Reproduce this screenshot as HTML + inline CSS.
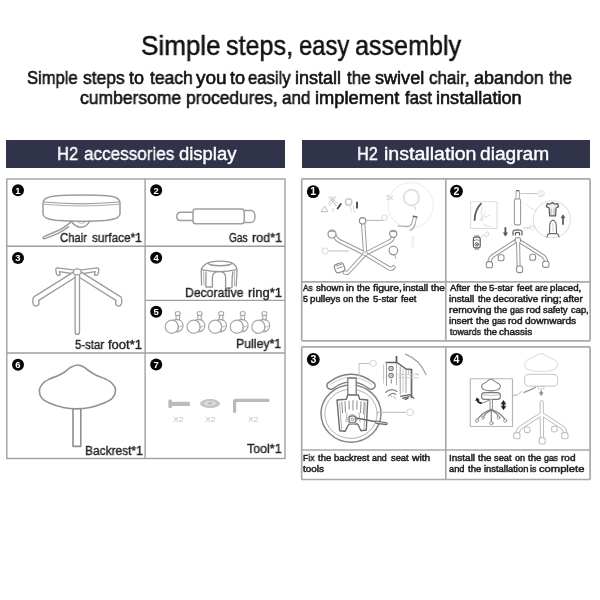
<!DOCTYPE html>
<html><head><meta charset="utf-8"><title>Simple steps, easy assembly</title>
<style>
html,body{margin:0;padding:0;background:#fff;}
body{width:600px;height:600px;position:relative;overflow:hidden;font-family:"Liberation Sans", sans-serif;}
.t{position:absolute;white-space:pre;transform-origin:0 0;will-change:transform;font-family:"Liberation Sans", sans-serif;font-weight:400;}
.hd{position:absolute;background:#30334a;}
svg{position:absolute;left:0;top:0;will-change:transform;}
</style></head><body>
<div class="hd" style="left:5.9px;top:139.6px;width:279.2px;height:28.7px"></div>
<div class="hd" style="left:301.7px;top:139.6px;width:288.8px;height:28.7px"></div>
<svg width="600" height="600" viewBox="0 0 600 600" fill="none">
<!-- table grid left -->
<g stroke="#9e9e9e" stroke-width="1.35">
<rect x="6.8" y="179" width="278.2" height="279.5"/>
<line x1="145.1" y1="179" x2="145.1" y2="458.5"/>
<line x1="6.8" y1="246.2" x2="285" y2="246.2"/>
<line x1="145.1" y1="300.4" x2="285" y2="300.4"/>
<line x1="6.8" y1="353" x2="285" y2="353"/>
</g>
<!-- right tables -->
<g stroke="#a9a9a9" stroke-width="1.7">
<rect x="301.7" y="178.8" width="288.4" height="162" rx="1"/>
<line x1="445.8" y1="178.8" x2="445.8" y2="340.8"/>
<line x1="301.7" y1="281.8" x2="590" y2="281.8"/>
<rect x="301.7" y="346.8" width="288.4" height="132.7" rx="1"/>
<line x1="445.8" y1="346.8" x2="445.8" y2="479.5"/>
<line x1="301.7" y1="450" x2="590" y2="450"/>
</g>
<!--ARTL-->
<!-- badges -->
<g id="badges" font-family="Liberation Sans, sans-serif" font-weight="700" text-anchor="middle" fill="#fff">
<g font-size="9.5">
<circle cx="18" cy="190.2" r="6" fill="#050505"/><text x="18" y="193.6">1</text>
<circle cx="156.2" cy="190.3" r="6" fill="#050505"/><text x="156.2" y="193.7">2</text>
<circle cx="18" cy="258" r="6" fill="#050505"/><text x="18" y="261.4">3</text>
<circle cx="156.2" cy="257.7" r="6" fill="#050505"/><text x="156.2" y="261.1">4</text>
<circle cx="156.2" cy="311.7" r="6" fill="#050505"/><text x="156.2" y="315.1">5</text>
<circle cx="18" cy="364.7" r="6" fill="#050505"/><text x="18" y="368.1">6</text>
<circle cx="156.2" cy="364.6" r="6" fill="#050505"/><text x="156.2" y="368">7</text>
</g>
<g font-size="10.5">
<circle cx="313.2" cy="191.7" r="6.4" fill="#050505"/><text x="313.2" y="195.4">1</text>
<circle cx="456.5" cy="191.2" r="6.4" fill="#050505"/><text x="456.5" y="194.9">2</text>
<circle cx="313.3" cy="359.5" r="6.4" fill="#050505"/><text x="313.3" y="363.2">3</text>
<circle cx="456.5" cy="359.3" r="6.4" fill="#050505"/><text x="456.5" y="363">4</text>
</g>
</g>
<!-- L1 chair surface -->
<g stroke="#9b9b9b" stroke-width="1.5" stroke-linecap="round" stroke-linejoin="round" fill="none">
<path d="M43,203 C43,198.5 47,196.6 55,195.9 C64,195.1 73,195 81.2,195 C89.5,195 98.5,195.1 107.5,195.8 C115.5,196.5 120,198.5 120,203 L120,214 C120,217.5 115,219.3 107,220.2 C98,221 89,221.2 81.2,221.2 C73.5,221.2 64.5,221 55.5,220.2 C47.5,219.3 43,217.5 43,214 Z" fill="#fff"/>
<path d="M43.8,202 Q81.2,205.6 119,202" stroke-width="1.2"/>
<path d="M43.6,204.2 Q81.2,207.8 119.4,204.2" stroke="#adadad" stroke-width="1.1"/>
<path d="M71,221 C73.5,224.5 76,227.3 81,227.3 C86,227.3 88,224.5 89.5,221.3"/>
<path d="M78,222.5 Q81.5,224.5 85,222.5" stroke-width="0.9" stroke="#b0b0b0"/>
<path d="M70.5,222.3 C66,226 61,229.5 56.5,231.2 C52,233 47.5,235 44,236.6 C42.4,237.6 43,239.2 45,238.6 C49,237.2 53.5,235.3 58,233.4 C62,231.5 65.5,229 68.5,226.8"/>
</g>
<!-- L2 gas rod -->
<g stroke="#a0a0a0" stroke-width="1.5" fill="#fff" stroke-linejoin="round">
<path d="M193,212.2 L181,212.2 C175.4,212.2 175.4,220.6 181,220.6 L193,220.6"/>
<path d="M244.2,210.4 L251,210.4 C256.3,210.4 256.3,222.5 251,222.5 L244.2,222.5"/>
<rect x="193" y="209" width="51.2" height="14.8" rx="2.8"/>
</g>
<!-- L3 five-star foot -->
<g stroke="#9c9c9c" stroke-width="1.35" fill="#fff" stroke-linejoin="round" stroke-linecap="round">
<path d="M75,270.2 L57.5,267.8 Q55.6,267.8 55.8,270 L56.4,273.6 Q57.6,276.6 60.2,274.6 L59.4,271.6 L74.5,274 Z"/>
<path d="M79.6,270.2 L97.1,267.8 Q99,267.8 98.8,270 L98.2,273.6 Q97,276.6 94.4,274.6 L95.2,271.6 L80.1,274 Z"/>
<path d="M74.2,271.6 L34.2,296.6 Q32.8,297.8 32.8,300 L33,303.4 Q33.8,306.6 36.8,305.8 Q39.4,305 39,302.6 L38.4,300.6 L77,276.2 Z"/>
<path d="M80.4,271.6 L120.4,296.6 Q121.8,297.8 121.8,300 L121.6,303.4 Q120.8,306.6 117.8,305.8 Q115.2,305 115.6,302.6 L116.2,300.6 L77.6,276.2 Z"/>
<path d="M75.1,274 L75.1,332 Q75.1,334.4 77.3,334.4 Q79.5,334.4 79.5,332 L79.5,274 Z"/>
<ellipse cx="77.3" cy="271.9" rx="3.9" ry="3"/>
</g>
<!-- L4 decorative ring -->
<g stroke="#999" stroke-width="1.35" fill="none" stroke-linejoin="round" stroke-linecap="round">
<ellipse cx="220" cy="263.4" rx="11.5" ry="2.3"/>
<path d="M208.6,262.6 C204,264.5 201.4,267.5 201.2,270.5 L201.6,285"/>
<path d="M231.4,262.6 C235.4,264.5 237,267.5 237,270.5 L236.2,286"/>
<path d="M201.8,269.6 Q219.5,273.6 236.6,269.6"/>
<path d="M203.6,271.5 L204,285" stroke="#b3b3b3" stroke-width="1"/>
<path d="M234.4,271.5 L234.3,286" stroke="#b3b3b3" stroke-width="1"/>
<path d="M206,272 C206.2,278 205.6,283 206,287 L212.4,287 L212.4,277 C212.6,273.4 215.5,271.6 219,271.6 C222.6,271.6 225.6,273.4 225.6,277 L225.6,288 L232,287.6 C232,283 232,277 232.8,272"/>
</g>
<!-- L5 pulleys -->
<g stroke="#a6a6a6" stroke-width="1.15" fill="#fff">
<g>
<circle cx="176.9" cy="325.6" r="6.2"/>
<rect x="176.1" y="314.6" width="3.4" height="5" rx="0.6"/>
<rect x="175.4" y="311.7" width="4.8" height="3.7" rx="1.1"/>
<circle cx="171.8" cy="326.8" r="6.6"/>
<path d="M175.5,320.6 C178,323.5 178.6,327 177.8,331" fill="none" stroke-width="0.8"/>
<path d="M178,327.5 L182.4,325.8" fill="none" stroke-width="0.8"/>
</g>
<g transform="translate(21.8,0)">
<circle cx="176.9" cy="325.6" r="6.2"/>
<rect x="176.1" y="314.6" width="3.4" height="5" rx="0.6"/>
<rect x="175.4" y="311.7" width="4.8" height="3.7" rx="1.1"/>
<circle cx="171.8" cy="326.8" r="6.6"/>
<path d="M175.5,320.6 C178,323.5 178.6,327 177.8,331" fill="none" stroke-width="0.8"/>
<path d="M178,327.5 L182.4,325.8" fill="none" stroke-width="0.8"/>
</g>
<g transform="translate(43.4,0)">
<circle cx="176.9" cy="325.6" r="6.2"/>
<rect x="176.1" y="314.6" width="3.4" height="5" rx="0.6"/>
<rect x="175.4" y="311.7" width="4.8" height="3.7" rx="1.1"/>
<circle cx="171.8" cy="326.8" r="6.6"/>
<path d="M175.5,320.6 C178,323.5 178.6,327 177.8,331" fill="none" stroke-width="0.8"/>
<path d="M178,327.5 L182.4,325.8" fill="none" stroke-width="0.8"/>
</g>
<g transform="translate(65,0)">
<circle cx="176.9" cy="325.6" r="6.2"/>
<rect x="176.1" y="314.6" width="3.4" height="5" rx="0.6"/>
<rect x="175.4" y="311.7" width="4.8" height="3.7" rx="1.1"/>
<circle cx="171.8" cy="326.8" r="6.6"/>
<path d="M175.5,320.6 C178,323.5 178.6,327 177.8,331" fill="none" stroke-width="0.8"/>
<path d="M178,327.5 L182.4,325.8" fill="none" stroke-width="0.8"/>
</g>
<g transform="translate(86.6,0)">
<circle cx="176.9" cy="325.6" r="6.2"/>
<rect x="176.1" y="314.6" width="3.4" height="5" rx="0.6"/>
<rect x="175.4" y="311.7" width="4.8" height="3.7" rx="1.1"/>
<circle cx="171.8" cy="326.8" r="6.6"/>
<path d="M175.5,320.6 C178,323.5 178.6,327 177.8,331" fill="none" stroke-width="0.8"/>
<path d="M178,327.5 L182.4,325.8" fill="none" stroke-width="0.8"/>
</g>

</g>
<!-- L6 backrest -->
<g stroke="#929292" stroke-width="1.65" fill="#fff" stroke-linejoin="round">
<rect x="73" y="408" width="7.8" height="38.3"/>
<path d="M77.5,365.0 C75.4,365.1 72.9,366.1 70.8,367.2 C68.7,368.3 67.1,370.3 65.0,371.7 C62.9,373.1 60.8,374.3 58.3,375.5 C55.8,376.7 52.5,377.6 50.0,378.8 C47.5,380.1 45.0,381.2 43.3,383.0 C41.5,384.8 39.8,387.2 39.5,389.7 C39.2,392.2 40.0,395.7 41.7,398.0 C43.5,400.3 46.4,401.7 50.0,403.3 C53.6,404.9 58.8,406.6 63.3,407.5 C67.8,408.4 72.2,408.8 76.7,408.8 C81.2,408.8 85.6,408.4 90.0,407.5 C94.4,406.6 99.5,404.9 103.3,403.3 C107.0,401.7 110.5,400.3 112.5,398.0 C114.5,395.7 115.6,392.2 115.5,389.7 C115.4,387.2 113.5,384.8 111.7,383.0 C110.0,381.2 107.5,380.1 105.0,378.8 C102.5,377.6 99.3,376.8 96.7,375.5 C94.1,374.2 91.4,372.5 89.2,371.0 C87.0,369.5 85.2,367.7 83.3,366.7 C81.3,365.7 79.6,364.9 77.5,365.0 Z"/>
</g>
<!-- L7 tools -->
<g>
<rect x="168.4" y="399.6" width="3.4" height="8.4" rx="1.2" fill="#b7b7b7"/>
<rect x="171" y="401.7" width="19" height="4.3" rx="1" fill="#bcbcbc"/>
<ellipse cx="210" cy="403.6" rx="10" ry="4.5" fill="#c4c4c4"/>
<ellipse cx="210" cy="403.3" rx="5.6" ry="2.3" fill="#e4e4e4"/>
<ellipse cx="210" cy="403.3" rx="3" ry="1.2" fill="#bdbdbd"/>
<path d="M268,400.3 L235.8,400.3 Q234.6,400.3 234.6,401.5 L234.6,411.4" stroke="#b9b9b9" stroke-width="3.2" stroke-linecap="round" fill="none"/>
</g>
<!--/ARTL-->
<!--ARTR-->
<!-- R1: install pulleys -->
<g fill="none" stroke-linecap="round" stroke-linejoin="round">
 <!-- magnifier circle & contents (faint) -->
 <circle cx="410.7" cy="205.3" r="22.6" stroke="#f0f0f0" stroke-width="1.2"/>
 <circle cx="411.4" cy="197.6" r="7.8" stroke="#e2e2e2" stroke-width="2"/>
 <path d="M405,192 Q411,187.5 417.5,191.5 M417,193 Q419.5,196 418,200" stroke="#e4e4e4" stroke-width="1.2"/>
 <path d="M414.6,206 L415.4,209.5" stroke="#e0e0e0" stroke-width="1.4"/>
 <path d="M398,226 L407.5,226.4 Q411,226 412,222.5 L413.6,216.6" stroke="#a9a9a9" stroke-width="1.1"/>
 <path d="M416.6,217.4 L415,224.5 Q414,228.5 410,230.6" stroke="#a9a9a9" stroke-width="1.1"/>
 <path d="M413.2,216.2 L416.8,217" stroke="#666" stroke-width="1.4"/>
 <path d="M412.4,236 Q411,243 412.6,247.5 Q414.6,243 413.8,236" stroke="#ededed" stroke-width="1.2"/>
 <!-- arms: gray tube with white core -->
 <g stroke="#9a9a9a" stroke-width="4.3">
  <path d="M365.2,253.8 L363.2,224.4"/><path d="M365.2,253.8 L339.4,241 Q336.6,239.6 335.4,237"/><path d="M365.2,253.8 L389.8,241.4 Q392.4,240 393,237"/><path d="M365.2,253.8 L348,272.4 Q346.6,273.4 344.6,272.4"/><path d="M365.2,253.8 L389.4,268.4 Q392,269.6 393.6,267.2"/>
 </g>
 <g stroke="#fff" stroke-width="2.3">
  <path d="M365.2,253.8 L363.2,224.4"/><path d="M365.2,253.8 L339.4,241 Q336.6,239.6 335.4,237"/><path d="M365.2,253.8 L389.8,241.4 Q392.4,240 393,237"/><path d="M365.2,253.8 L348,272.4 Q346.6,273.4 344.6,272.4"/><path d="M365.2,253.8 L389.4,268.4 Q392,269.6 393.6,267.2"/>
 </g>
 <ellipse cx="365.2" cy="253.8" rx="2.6" ry="2" stroke="#a2a2a2" stroke-width="0.9" fill="#fff"/>
 <!-- casters at arm ends -->
 <g stroke="#8c8c8c" stroke-width="1.15" fill="#fff">
  <circle cx="362.6" cy="220.8" r="3.2"/>
  <circle cx="332" cy="234" r="4"/>
  <circle cx="393.2" cy="233.8" r="3.6"/>
  <rect x="334.8" y="263.4" width="9.6" height="8.8" rx="2.8" transform="rotate(-20 339.6 267.8)"/>
 </g>
 <path d="M330,231.6 Q332.4,230.4 334.6,231.8 M391.4,231.4 L395.4,231.8 M336.4,266 L342,264 M337,268.6 L343,266.6" stroke="#8a8a8a" stroke-width="0.9"/>
 <!-- caster being inserted -->
 <circle cx="393.4" cy="250.6" r="4.3" stroke="#8a8a8a" stroke-width="1.1" fill="#fff"/>
 <path d="M390.5,253.5 Q393,256 396,254.5 M395,255.5 L396,258.4" stroke="#9a9a9a" stroke-width="0.9"/>
 <!-- callouts -->
 <path d="M366.4,220.4 L383,220.4" stroke="#b4b4b4" stroke-width="1"/>
 <circle cx="384.6" cy="217.6" r="2.8" stroke="#d6d6d6" stroke-width="0.9"/>
 <path d="M348.6,251 L329,251" stroke="#bdbdbd" stroke-width="1"/>
 <circle cx="325.2" cy="251" r="3.1" stroke="#d2d2d2" stroke-width="0.9"/>
 <!-- small icons upper-left -->
 <path d="M321.4,211.4 L324.6,206 L327.6,211.4 Z" stroke="#b9b9b9" stroke-width="0.9"/>
 <path d="M328.6,197 L336.6,205.6 M336,196.6 L329.6,205.6 M330.4,196.4 L337.4,203.4 M334,196.4 L328.6,203.4 M332,199 L335.6,206" stroke="#c2c2c2" stroke-width="0.85"/>
 <path d="M337.6,208.6 L340.8,204" stroke="#3c3c3c" stroke-width="1.7"/>
 <circle cx="348.6" cy="202" r="3.2" stroke="#cacaca" stroke-width="1.5"/>
 <path d="M350.4,206 L351.4,212 M353.4,206 L354.4,212.6" stroke="#dcdcdc" stroke-width="1"/>
 <path d="M357,201.8 L357,208.4" stroke="#444" stroke-width="1.8" stroke-linecap="butt"/>
 <path d="M333,208.4 L333,211.6" stroke="#c8c8c8" stroke-width="0.9"/>
</g>
<text x="386.2" y="199.6" font-family="Liberation Sans, sans-serif" font-size="6.4" fill="#c2c2c2">5x</text>

<!-- R2: decorative ring + gas rod -->
<g fill="none" stroke-linecap="round" stroke-linejoin="round">
 <!-- inset box -->
 <rect x="470.6" y="201.8" width="26.4" height="26.6" stroke="#dedede" stroke-width="1.1"/>
 <path d="M474.6,220 C474.8,213 477,207.6 481,203.6" stroke="#5c5c5c" stroke-width="1.8"/>
 <path d="M482.6,207 C480.6,212 480.6,217 483,221 M485,213 Q482,217 480,221 M484,218 L489,215.4 M484,224 Q487,227 491,226" stroke="#e2e2e2" stroke-width="1.1"/>
 <!-- small caster icon -->
 <rect x="473.4" y="237.2" width="6.8" height="10.6" rx="1.8" stroke="#5e5e5e" stroke-width="1.25" fill="#fff"/>
 <circle cx="476.8" cy="244.4" r="1.7" stroke="#5a5a5a" stroke-width="1"/>
 <circle cx="476.8" cy="244.4" r="0.6" fill="#333" stroke="none"/>
 <path d="M474.4,240.4 Q476.8,238.8 479.2,240.4" stroke="#777" stroke-width="0.9"/>
 <path d="M474.6,236 L479,236 M474.8,249 L478.8,249" stroke="#7a7a7a" stroke-width="1"/>
 <path d="M484.6,234.4 L487.8,231.8 L489.2,234.6 L486.4,236.8 Z M481.4,236.6 L484,235" stroke="#d6d6d6" stroke-width="1"/>
 <!-- big circle right -->
 <circle cx="551.9" cy="219.4" r="18.5" stroke="#e2e2e2" stroke-width="1.1"/>
 <path d="M526,204 Q530,208.6 536.6,210.6 M524.6,229.4 Q530,228.6 534,226.4" stroke="#e0e0e0" stroke-width="1"/>
 <!-- cap inside circle -->
 <path d="M547.2,203.6 L549.6,204.2 L552.4,202.6 L555.2,204.2 L557.8,203.6 L558.6,206.6 L556,208 L555.6,215.8 L549.6,215.8 L549.2,208 L546.4,206.6 Z" stroke="#5a5a5a" stroke-width="1.25" fill="#f1f1f1"/>
 <path d="M551.2,209 L551.2,214.6 M554,209 L554,214.6" stroke="#a0a0a0" stroke-width="0.7"/>
 <!-- bottle / rod top inside circle -->
 <path d="M549.5,233.6 L549.7,225.6 Q549.9,221.2 553,220 Q556.1,221.2 556.3,225.6 L556.5,233.6 M547,237 Q547.6,233.8 549.5,233.6 L556.5,233.6 Q558.4,233.8 559,237" stroke="#6c6c6c" stroke-width="1.15"/>
 <path d="M553,224 L553,231" stroke="#c4c4c4" stroke-width="0.8"/>
 <path d="M563,224.8 L563,216.6" stroke="#555" stroke-width="1.7" stroke-linecap="butt"/>
 <path d="M561.2,217.6 L563,214.8 L564.8,217.6 Z" fill="#555" stroke="#555" stroke-width="0.6"/>
 <!-- gas rod -->
 <rect x="516" y="190.6" width="3.4" height="9" rx="1.2" stroke="#a0a0a0" stroke-width="1" fill="#fff"/>
 <rect x="514.4" y="198.8" width="6.2" height="26" rx="1.6" stroke="#a0a0a0" stroke-width="1.15" fill="#fff"/>
 <path d="M516.6,190.7 L518.8,190.7" stroke="#666" stroke-width="1.2"/>
 <path d="M520.6,193.6 L537.6,193.6" stroke="#c4c4c4" stroke-width="1"/>
 <circle cx="541.2" cy="193.6" r="3.2" stroke="#dedede" stroke-width="1"/>
 <path d="M540,192.4 Q541.6,191.4 542.2,193 L540.2,195.4 L542.6,195.4" stroke="#e0e0e0" stroke-width="0.8"/>
 <!-- ring -->
 <path d="M513,235 L513,231.8 Q513,229.8 517.4,229.8 Q522,229.8 522,231.8 L522,235 M515.4,235 L515.4,233 Q517.4,231.6 519.6,233 L519.6,235" stroke="#5a5a5a" stroke-width="1.2"/>
 <path d="M523.6,227.4 L530,227.4" stroke="#d0d0d0" stroke-width="0.9"/>
 <circle cx="532.6" cy="227.4" r="2.6" stroke="#e2e2e2" stroke-width="0.9"/>
 <!-- down arrow -->
 <path d="M505.4,227.2 L505.4,233.6" stroke="#555" stroke-width="1.8" stroke-linecap="butt"/>
 <path d="M503.5,233 L505.4,236.2 L507.3,233 Z" fill="#555" stroke="#555" stroke-width="0.6"/>
 <!-- base -->
 <g stroke="#9c9c9c" stroke-width="4.1">
  <path d="M517.2,240 L492.6,256 Q489.8,258 489.4,262.4"/><path d="M517.8,240 L543,256 Q545.8,258 546.2,262.4"/><path d="M518,240 L518.6,266"/>
 </g>
 <g stroke="#fff" stroke-width="2">
  <path d="M517.2,240 L492.6,256 Q489.8,258 489.4,262.4"/><path d="M517.8,240 L543,256 Q545.8,258 546.2,262.4"/><path d="M518,240.6 L518.6,266"/>
 </g>
 <path d="M515,241.6 L515.4,237.8 L520.2,237.8 L520.6,241.6" stroke="#8c8c8c" stroke-width="1" fill="#fff"/>
 <g stroke="#8e8e8e" stroke-width="1.1" fill="#fff">
  <rect x="486.3" y="261.6" width="6.2" height="6.2" rx="2.1"/>
  <rect x="498.2" y="254.8" width="5.8" height="6" rx="2"/>
  <rect x="516.6" y="266" width="6" height="6.6" rx="2.1"/>
  <rect x="529.8" y="254.2" width="5.8" height="6" rx="2"/>
  <rect x="542.6" y="261.2" width="6.4" height="6.2" rx="2.1"/>
 </g>
</g>

<!-- R3: fix backrest & seat -->
<g fill="none" stroke-linecap="round" stroke-linejoin="round">
 <!-- seat circle double -->
 <ellipse cx="351" cy="413.6" rx="30" ry="28.6" stroke="#868686" stroke-width="1.5" fill="#fff"/>
 <ellipse cx="351" cy="413.8" rx="26.2" ry="24.6" stroke="#b2b2b2" stroke-width="1"/>
 <!-- backrest band -->
 <path d="M329.4,389 C326,387.6 326,383.6 329.4,382 C343,371.6 359,371.6 372.6,382 C376,383.6 376,387.6 372.6,389 C371,389.6 369.6,389.2 368.4,388.2 C358,380 344,380 333.6,388.2 C332.4,389.2 331,389.6 329.4,389 Z" stroke="#7c7c7c" stroke-width="1.4" fill="#fff"/>
 <path d="M330.6,384.4 C343.6,375 358.4,375 371.4,384.4" stroke="#c4c4c4" stroke-width="0.9"/>
 <!-- stem -->
 <path d="M347.8,378 L347.8,395.4 L356.2,395.4 L356.2,378 Z" stroke="#7a7a7a" stroke-width="1.3" fill="#fff"/>
 <!-- plate -->
 <path d="M337,400 L346.3,399.3 L347.7,395 L358.3,395 L359.7,399.3 L367.7,400 L366.3,430 L361,430.7 L357.7,424 L349,424 L345,431.3 L339.7,430.7 Z" stroke="#6c6c6c" stroke-width="1.4" fill="#fff"/>
 <path d="M341.8,402 L342.6,413 M345,401.6 L345.4,412 M349,401 L349.2,409 M353,400.6 L353,410 M357,401 L356.8,409 M361,401.6 L360.6,412.6 M364.2,402 L363.6,414" stroke="#8c8c8c" stroke-width="1"/>
 <path d="M339.6,403 L341.6,429 M365.4,403 L364,429 M347,413 L346,422 M359,413 L360,422" stroke="#a8a8a8" stroke-width="0.9"/>
 <circle cx="352.4" cy="419.4" r="4.9" stroke="#b5b5b5" stroke-width="0.9" fill="#fff"/>
 <circle cx="352.4" cy="419.4" r="3.5" stroke="#6a6a6a" stroke-width="1.2" fill="#fff"/>
 <circle cx="352.4" cy="419.4" r="1.3" stroke="#808080" stroke-width="0.9"/>
 <!-- lever -->
 <path d="M356,418 L380,422.4" stroke="#6a6a6a" stroke-width="1.5"/>
 <path d="M376,421 L386.4,422.8 Q388,423.6 386.6,424.6 L376,423.4" stroke="#6a6a6a" stroke-width="1.1" fill="#ddd"/>
 <!-- callouts -->
 <path d="M359,375.4 L359,363.5 L369.6,363.5" stroke="#c0c0c0" stroke-width="1"/>
 <circle cx="373.2" cy="363.4" r="3.2" stroke="#d4d4d4" stroke-width="0.9"/>
 <path d="M377,412.3 L405.6,412.3" stroke="#b8b8b8" stroke-width="1"/>
 <circle cx="410.2" cy="412.3" r="3.4" stroke="#cfcfcf" stroke-width="0.9"/>
 <!-- detail sketch upper right -->
 <path d="M405.4,354.2 C414,357.6 422,365 426,374.6" stroke="#a2a2a2" stroke-width="1.25"/>
 <path d="M396.5,356 L396.5,362.4" stroke="#585858" stroke-width="1.7" stroke-linecap="butt"/>
 <path d="M386,362.5 L397,362.5 L406,369 L411.4,369.5" stroke="#5e5e5e" stroke-width="1.5"/>
 <path d="M411.5,369.5 L411.5,397.4" stroke="#696969" stroke-width="1.7"/>
 <path d="M386.5,362.5 L386.5,385.4" stroke="#9a9a9a" stroke-width="1"/>
 <path d="M383.6,365 L383.6,383.4" stroke="#c0c0c0" stroke-width="1" stroke-dasharray="1.2 0.9"/>
 <path d="M396.5,363.4 L396.5,384.6" stroke="#a6a6a6" stroke-width="1" stroke-dasharray="2 1"/>
 <path d="M400.2,367 L400.2,394 M406,370 L406,392.6" stroke="#9c9c9c" stroke-width="1"/>
 <path d="M403,369 L403,392 M408.6,370 L408.6,374" stroke="#c2c2c2" stroke-width="0.9"/>
 <path d="M396,374.6 L419,374.2 M398,377.6 L418.4,377.8 M416,373 L418,375.4" stroke="#cfcfcf" stroke-width="0.9"/>
 <circle cx="391" cy="368.6" r="2.2" stroke="#787878" stroke-width="1.1" fill="#fff"/>
 <circle cx="391" cy="375.6" r="2.2" stroke="#787878" stroke-width="1.1" fill="#fff"/>
 <circle cx="391" cy="368.6" r="0.9" stroke="#a0a0a0" stroke-width="0.7"/>
 <circle cx="391" cy="375.6" r="0.9" stroke="#a0a0a0" stroke-width="0.7"/>
 <path d="M391.3,379.8 L391.3,383" stroke="#a8a8a8" stroke-width="1.4"/>
 <path d="M385.6,392.4 Q391,387.4 397,391.4 M388.4,396 Q392,391.6 396,394.4" stroke="#868686" stroke-width="1.15"/>
 <path d="M389.6,394.4 L391.6,396.6 M393.8,396 L395.4,398.4" stroke="#a0a0a0" stroke-width="0.9"/>
 <path d="M400.6,396.4 L410,394.6 L414,398.4 M402.6,398.4 L409,396.6 M405,399.4 L408,398.4" stroke="#626262" stroke-width="1.2"/>
</g>

<!-- R4: install seat on gas rod -->
<g fill="none" stroke-linecap="round" stroke-linejoin="round">
 <!-- big faint chair -->
 <path d="M541,353.6 C537,353.6 535,357 531.6,358 C527,359.4 524.6,361.6 524.6,364.6 C524.6,369 531,371.6 541,371.6 C551,371.6 557.6,369 557.6,364.6 C557.6,361.6 555,359.4 550.4,358 C547,357 545,353.6 541,353.6 Z" stroke="#e2e2e2" stroke-width="1.2"/>
 <rect x="524.6" y="374.4" width="33" height="11.8" rx="4" stroke="#cfcfcf" stroke-width="1.2"/>
 <path d="M535.4,387.4 Q530,390.4 524,392.4" stroke="#a0a0a0" stroke-width="1.5"/>
 <path d="M538,386.4 L544.4,386.4 L543.6,389 L538.8,389 Z" stroke="#c4c4c4" stroke-width="0.9"/>
 <path d="M541.2,390.4 L541.2,393.4" stroke="#8a8a8a" stroke-width="1.6" stroke-linecap="butt"/>
 <path d="M539.4,392.8 L541.2,395.8 L543,392.8 Z" fill="#8a8a8a" stroke="#8a8a8a" stroke-width="0.5"/>
 <g stroke="#bdbdbd" stroke-width="4.2">
  <path d="M541.7,402.4 L541.7,414 L521.4,427 Q518.2,429 517.4,433"/><path d="M541.7,414 L561.6,427 Q564.8,429 565.4,433"/><path d="M541.7,414 L542,437.4"/>
 </g>
 <g stroke="#fff" stroke-width="2.2">
  <path d="M541.7,402.4 L541.7,414 L521.4,427 Q518.2,429 517.4,433"/><path d="M541.7,414 L561.6,427 Q564.8,429 565.4,433"/><path d="M541.7,414 L542,437.4"/>
 </g>
 <g stroke="#c2c2c2" stroke-width="1.1" fill="#fff">
  <rect x="513.6" y="432.6" width="6.4" height="6.2" rx="2.1"/>
  <rect x="524.4" y="427" width="5.6" height="5.6" rx="1.9"/>
  <rect x="539.2" y="437.6" width="6" height="6.4" rx="2.1"/>
  <rect x="551.6" y="426.4" width="5.6" height="5.6" rx="1.9"/>
  <rect x="561.6" y="432.6" width="6.4" height="6.2" rx="2.1"/>
 </g>
 <!-- inset box -->
 <rect x="470.3" y="378.7" width="42.2" height="47.8" stroke="#b6b6b6" stroke-width="1.15" fill="#fff"/>
 <path d="M512.5,396.6 L515.4,394.4 L516.2,396.2 L521.4,391.4" stroke="#b2b2b2" stroke-width="1"/>
 <!-- small chair -->
 <path d="M491,379.2 C488.6,379.2 487.6,381.6 485.6,382.4 C483,383.4 481.6,384.8 481.6,386.4 C481.6,389.2 485.4,390.6 491,390.6 C496.6,390.6 500.4,389.2 500.4,386.4 C500.4,384.8 499,383.4 496.4,382.4 C494.4,381.6 493.4,379.2 491,379.2 Z" stroke="#858585" stroke-width="1.05" fill="#fff"/>
 <path d="M489.8,390.6 L489.8,392.6 M492.4,390.6 L492.4,392.6" stroke="#999" stroke-width="0.9"/>
 <rect x="481.6" y="392.6" width="18.8" height="6.8" rx="3" stroke="#7a7a7a" stroke-width="1.1" fill="#fff"/>
 <path d="M482.8,394.8 Q491,396.2 499.4,394.8" stroke="#b0b0b0" stroke-width="0.8"/>
 <path d="M488.6,400.4 Q485,402.6 481,403.2" stroke="#808080" stroke-width="1.1"/>
 <path d="M491.2,399.6 L491.2,409.6" stroke="#808080" stroke-width="3.3" stroke-linecap="butt"/>
 <path d="M491.2,399.6 L491.2,409.6" stroke="#fff" stroke-width="1.5" stroke-linecap="butt"/>
 <path d="M491.2,409.4 Q483,412 477.4,419.6 M491.2,409.4 Q499.4,412 505.2,419.6 M491.2,409.4 L491.4,422 M490.4,410.4 Q486,412.6 483.4,416.6 M492,410.4 Q496.4,412.6 498.6,416.6" stroke="#808080" stroke-width="1.15"/>
 <g stroke="#8a8a8a" stroke-width="0.9" fill="#fff">
  <circle cx="477" cy="420.6" r="1.6"/><circle cx="483" cy="417.6" r="1.4"/><circle cx="491.4" cy="423.2" r="1.7"/><circle cx="498.6" cy="417.6" r="1.4"/><circle cx="505.2" cy="420.6" r="1.6"/>
 </g>
 <!-- dark arrows -->
 <path d="M477.4,399.6 Q478,402.8 481,403.2" stroke="#1c1c1c" stroke-width="1.8"/>
 <path d="M475.8,400.6 L476.8,397.8 L479.2,399.8 Z" fill="#1c1c1c" stroke="#1c1c1c" stroke-width="0.5"/>
 <path d="M503.5,403 L503.5,407.2" stroke="#1c1c1c" stroke-width="1.9" stroke-linecap="butt"/>
 <path d="M501.2,403.8 L503.5,400.4 L505.8,403.8 Z M501.2,406.4 L503.5,409.8 L505.8,406.4 Z" fill="#1c1c1c" stroke="#1c1c1c" stroke-width="0.5"/>
</g>
<!--/ARTR-->
</svg>

<span class="t" style="left:140.69px;top:32.00px;font-size:28px;line-height:28px;color:#111;-webkit-text-stroke:0.5px #111;transform:scaleX(0.9297)">Simple</span>
<span class="t" style="left:226.11px;top:32.00px;font-size:28px;line-height:28px;color:#111;-webkit-text-stroke:0.5px #111;transform:scaleX(0.8978)">steps,</span>
<span class="t" style="left:298.56px;top:32.00px;font-size:28px;line-height:28px;color:#111;-webkit-text-stroke:0.5px #111;transform:scaleX(0.8495)">easy</span>
<span class="t" style="left:355.22px;top:32.00px;font-size:28px;line-height:28px;color:#111;-webkit-text-stroke:0.5px #111;transform:scaleX(0.8970)">assembly</span>
<span class="t" style="left:26.76px;top:69.26px;font-size:18px;line-height:18px;color:#111;-webkit-text-stroke:0.6px #111;transform:scaleX(0.9195)">Simple</span>
<span class="t" style="left:83.12px;top:69.26px;font-size:18px;line-height:18px;color:#111;-webkit-text-stroke:0.6px #111;transform:scaleX(0.9685)">steps</span>
<span class="t" style="left:129.00px;top:69.26px;font-size:18px;line-height:18px;color:#111;-webkit-text-stroke:0.6px #111;transform:scaleX(0.9999)">to</span>
<span class="t" style="left:149.81px;top:69.26px;font-size:18px;line-height:18px;color:#111;-webkit-text-stroke:0.6px #111;transform:scaleX(0.9714)">teach</span>
<span class="t" style="left:196.30px;top:69.26px;font-size:18px;line-height:18px;color:#111;-webkit-text-stroke:0.6px #111;transform:scaleX(1.0569)">you</span>
<span class="t" style="left:229.80px;top:69.26px;font-size:18px;line-height:18px;color:#111;-webkit-text-stroke:0.6px #111;transform:scaleX(1.0070)">to</span>
<span class="t" style="left:248.15px;top:69.26px;font-size:18px;line-height:18px;color:#111;-webkit-text-stroke:0.6px #111;transform:scaleX(0.9268)">easily</span>
<span class="t" style="left:295.10px;top:69.26px;font-size:18px;line-height:18px;color:#111;-webkit-text-stroke:0.6px #111;transform:scaleX(1.0018)">install</span>
<span class="t" style="left:346.51px;top:69.26px;font-size:18px;line-height:18px;color:#111;-webkit-text-stroke:0.6px #111;transform:scaleX(0.9456)">the</span>
<span class="t" style="left:375.30px;top:69.26px;font-size:18px;line-height:18px;color:#111;-webkit-text-stroke:0.6px #111;transform:scaleX(1.0040)">swivel</span>
<span class="t" style="left:429.34px;top:69.26px;font-size:18px;line-height:18px;color:#111;-webkit-text-stroke:0.6px #111;transform:scaleX(0.9405)">chair,</span>
<span class="t" style="left:473.80px;top:69.26px;font-size:18px;line-height:18px;color:#111;-webkit-text-stroke:0.6px #111;transform:scaleX(0.9961)">abandon</span>
<span class="t" style="left:549.02px;top:69.26px;font-size:18px;line-height:18px;color:#111;-webkit-text-stroke:0.6px #111;transform:scaleX(0.9166)">the</span>
<span class="t" style="left:80.32px;top:89.06px;font-size:18px;line-height:18px;color:#111;-webkit-text-stroke:0.6px #111;transform:scaleX(0.9725)">cumbersome</span>
<span class="t" style="left:185.94px;top:89.06px;font-size:18px;line-height:18px;color:#111;-webkit-text-stroke:0.6px #111;transform:scaleX(0.9637)">procedures,</span>
<span class="t" style="left:281.84px;top:89.06px;font-size:18px;line-height:18px;color:#111;-webkit-text-stroke:0.6px #111;transform:scaleX(0.9461)">and</span>
<span class="t" style="left:315.48px;top:89.06px;font-size:18px;line-height:18px;color:#111;-webkit-text-stroke:0.6px #111;transform:scaleX(1.0155)">implement</span>
<span class="t" style="left:404.61px;top:89.06px;font-size:18px;line-height:18px;color:#111;-webkit-text-stroke:0.6px #111;transform:scaleX(0.9299)">fast</span>
<span class="t" style="left:436.29px;top:89.06px;font-size:18px;line-height:18px;color:#111;-webkit-text-stroke:0.6px #111;transform:scaleX(1.0068)">installation</span>
<span class="t" style="left:57.01px;top:145.36px;font-size:18px;line-height:18px;color:#fff;-webkit-text-stroke:0.4px #fff;transform:scaleX(0.9231)">H2</span>
<span class="t" style="left:83.53px;top:145.36px;font-size:18px;line-height:18px;color:#fff;-webkit-text-stroke:0.4px #fff;transform:scaleX(0.9505)">accessories</span>
<span class="t" style="left:179.28px;top:145.36px;font-size:18px;line-height:18px;color:#fff;-webkit-text-stroke:0.4px #fff;transform:scaleX(1.0248)">display</span>
<span class="t" style="left:357.43px;top:145.36px;font-size:18px;line-height:18px;color:#fff;-webkit-text-stroke:0.4px #fff;transform:scaleX(0.9039)">H2</span>
<span class="t" style="left:383.69px;top:145.36px;font-size:18px;line-height:18px;color:#fff;-webkit-text-stroke:0.4px #fff;transform:scaleX(1.0877)">installation</span>
<span class="t" style="left:479.56px;top:145.36px;font-size:18px;line-height:18px;color:#fff;-webkit-text-stroke:0.4px #fff;transform:scaleX(1.0627)">diagram</span>
<span class="t" style="left:59.78px;top:230.90px;font-size:13px;line-height:13px;color:#262626;-webkit-text-stroke:0.4px #262626;transform:scaleX(0.8702)">Chair</span>
<span class="t" style="left:92.23px;top:230.90px;font-size:13px;line-height:13px;color:#262626;-webkit-text-stroke:0.4px #262626;transform:scaleX(0.9039)">surface*1</span>
<span class="t" style="left:228.73px;top:231.10px;font-size:13px;line-height:13px;color:#262626;-webkit-text-stroke:0.4px #262626;transform:scaleX(0.7793)">Gas</span>
<span class="t" style="left:251.72px;top:231.10px;font-size:13px;line-height:13px;color:#262626;-webkit-text-stroke:0.4px #262626;transform:scaleX(0.9714)">rod*1</span>
<span class="t" style="left:74.56px;top:337.90px;font-size:13px;line-height:13px;color:#262626;-webkit-text-stroke:0.4px #262626;transform:scaleX(0.8742)">5-star</span>
<span class="t" style="left:108.20px;top:337.90px;font-size:13px;line-height:13px;color:#262626;-webkit-text-stroke:0.4px #262626;transform:scaleX(1.0017)">foot*1</span>
<span class="t" style="left:185.46px;top:286.40px;font-size:13px;line-height:13px;color:#262626;-webkit-text-stroke:0.4px #262626;transform:scaleX(0.9388)">Decorative</span>
<span class="t" style="left:247.70px;top:286.40px;font-size:13px;line-height:13px;color:#262626;-webkit-text-stroke:0.4px #262626;transform:scaleX(0.9989)">ring*1</span>
<span class="t" style="left:236.25px;top:337.20px;font-size:13px;line-height:13px;color:#262626;-webkit-text-stroke:0.4px #262626;transform:scaleX(0.9465)">Pulley*1</span>
<span class="t" style="left:84.58px;top:443.90px;font-size:13px;line-height:13px;color:#262626;-webkit-text-stroke:0.4px #262626;transform:scaleX(0.9178)">Backrest*1</span>
<span class="t" style="left:247.01px;top:442.20px;font-size:13px;line-height:13px;color:#262626;-webkit-text-stroke:0.4px #262626;transform:scaleX(0.9573)">Tool*1</span>
<span class="t" style="left:173.49px;top:416.20px;font-size:7.8px;line-height:7.8px;color:#bdbdbd;transform:scaleX(1.0986)">X2</span>
<span class="t" style="left:205.49px;top:416.20px;font-size:7.8px;line-height:7.8px;color:#bdbdbd;transform:scaleX(1.0986)">X2</span>
<span class="t" style="left:247.89px;top:416.20px;font-size:7.8px;line-height:7.8px;color:#bdbdbd;transform:scaleX(1.0986)">X2</span>
<span class="t" style="left:303.30px;top:284.27px;font-size:8.9px;line-height:8.9px;color:#202020;-webkit-text-stroke:0.45px #202020;transform:scaleX(0.9274)">As</span>
<span class="t" style="left:316.08px;top:284.27px;font-size:8.9px;line-height:8.9px;color:#202020;-webkit-text-stroke:0.45px #202020;transform:scaleX(1.0810)">shown</span>
<span class="t" style="left:346.11px;top:284.27px;font-size:8.9px;line-height:8.9px;color:#202020;-webkit-text-stroke:0.45px #202020;transform:scaleX(1.1740)">in</span>
<span class="t" style="left:356.59px;top:284.27px;font-size:8.9px;line-height:8.9px;color:#202020;-webkit-text-stroke:0.45px #202020;transform:scaleX(1.0568)">the</span>
<span class="t" style="left:373.18px;top:284.27px;font-size:8.9px;line-height:8.9px;color:#202020;-webkit-text-stroke:0.45px #202020;transform:scaleX(1.1734)">figure,</span>
<span class="t" style="left:403.45px;top:284.27px;font-size:8.9px;line-height:8.9px;color:#202020;-webkit-text-stroke:0.45px #202020;transform:scaleX(1.1072)">install</span>
<span class="t" style="left:431.19px;top:284.27px;font-size:8.9px;line-height:8.9px;color:#202020;-webkit-text-stroke:0.45px #202020;transform:scaleX(1.1239)">the</span>
<span class="t" style="left:303.00px;top:295.27px;font-size:8.9px;line-height:8.9px;color:#202020;-webkit-text-stroke:0.45px #202020;transform:scaleX(1.0000)">5</span>
<span class="t" style="left:309.85px;top:295.27px;font-size:8.9px;line-height:8.9px;color:#202020;-webkit-text-stroke:0.45px #202020;transform:scaleX(1.0982)">pulleys</span>
<span class="t" style="left:342.99px;top:295.27px;font-size:8.9px;line-height:8.9px;color:#202020;-webkit-text-stroke:0.45px #202020;transform:scaleX(1.0387)">on</span>
<span class="t" style="left:355.89px;top:295.27px;font-size:8.9px;line-height:8.9px;color:#202020;-webkit-text-stroke:0.45px #202020;transform:scaleX(1.0652)">the</span>
<span class="t" style="left:372.98px;top:295.27px;font-size:8.9px;line-height:8.9px;color:#202020;-webkit-text-stroke:0.45px #202020;transform:scaleX(1.0721)">5-star</span>
<span class="t" style="left:400.60px;top:295.27px;font-size:8.9px;line-height:8.9px;color:#202020;-webkit-text-stroke:0.45px #202020;transform:scaleX(1.0357)">feet</span>
<span class="t" style="left:449.70px;top:284.27px;font-size:8.9px;line-height:8.9px;color:#202020;-webkit-text-stroke:0.45px #202020;transform:scaleX(1.0677)">After</span>
<span class="t" style="left:473.59px;top:284.27px;font-size:8.9px;line-height:8.9px;color:#202020;-webkit-text-stroke:0.45px #202020;transform:scaleX(1.0568)">the</span>
<span class="t" style="left:489.38px;top:284.27px;font-size:8.9px;line-height:8.9px;color:#202020;-webkit-text-stroke:0.45px #202020;transform:scaleX(1.0721)">5-star</span>
<span class="t" style="left:516.90px;top:284.27px;font-size:8.9px;line-height:8.9px;color:#202020;-webkit-text-stroke:0.45px #202020;transform:scaleX(1.0357)">feet</span>
<span class="t" style="left:535.41px;top:284.27px;font-size:8.9px;line-height:8.9px;color:#202020;-webkit-text-stroke:0.45px #202020;transform:scaleX(0.9825)">are</span>
<span class="t" style="left:550.45px;top:284.27px;font-size:8.9px;line-height:8.9px;color:#202020;-webkit-text-stroke:0.45px #202020;transform:scaleX(1.0938)">placed,</span>
<span class="t" style="left:449.15px;top:295.27px;font-size:8.9px;line-height:8.9px;color:#202020;-webkit-text-stroke:0.45px #202020;transform:scaleX(1.1072)">install</span>
<span class="t" style="left:477.59px;top:295.27px;font-size:8.9px;line-height:8.9px;color:#202020;-webkit-text-stroke:0.45px #202020;transform:scaleX(1.0568)">the</span>
<span class="t" style="left:493.37px;top:295.27px;font-size:8.9px;line-height:8.9px;color:#202020;-webkit-text-stroke:0.45px #202020;transform:scaleX(1.1036)">decorative</span>
<span class="t" style="left:541.10px;top:295.27px;font-size:8.9px;line-height:8.9px;color:#202020;-webkit-text-stroke:0.45px #202020;transform:scaleX(1.2032)">ring;</span>
<span class="t" style="left:563.37px;top:295.27px;font-size:8.9px;line-height:8.9px;color:#202020;-webkit-text-stroke:0.45px #202020;transform:scaleX(1.1063)">after</span>
<span class="t" style="left:449.12px;top:306.17px;font-size:8.9px;line-height:8.9px;color:#202020;-webkit-text-stroke:0.45px #202020;transform:scaleX(1.1616)">removing</span>
<span class="t" style="left:494.19px;top:306.17px;font-size:8.9px;line-height:8.9px;color:#202020;-webkit-text-stroke:0.45px #202020;transform:scaleX(1.0652)">the</span>
<span class="t" style="left:510.01px;top:306.17px;font-size:8.9px;line-height:8.9px;color:#202020;-webkit-text-stroke:0.45px #202020;transform:scaleX(0.9710)">gas</span>
<span class="t" style="left:526.12px;top:306.17px;font-size:8.9px;line-height:8.9px;color:#202020;-webkit-text-stroke:0.45px #202020;transform:scaleX(1.1512)">rod</span>
<span class="t" style="left:543.49px;top:306.17px;font-size:8.9px;line-height:8.9px;color:#202020;-webkit-text-stroke:0.45px #202020;transform:scaleX(1.0426)">safety</span>
<span class="t" style="left:571.38px;top:306.17px;font-size:8.9px;line-height:8.9px;color:#202020;-webkit-text-stroke:0.45px #202020;transform:scaleX(1.0540)">cap,</span>
<span class="t" style="left:449.15px;top:317.17px;font-size:8.9px;line-height:8.9px;color:#202020;-webkit-text-stroke:0.45px #202020;transform:scaleX(1.0944)">insert</span>
<span class="t" style="left:476.19px;top:317.17px;font-size:8.9px;line-height:8.9px;color:#202020;-webkit-text-stroke:0.45px #202020;transform:scaleX(1.0652)">the</span>
<span class="t" style="left:492.01px;top:317.17px;font-size:8.9px;line-height:8.9px;color:#202020;-webkit-text-stroke:0.45px #202020;transform:scaleX(0.9710)">gas</span>
<span class="t" style="left:508.44px;top:317.17px;font-size:8.9px;line-height:8.9px;color:#202020;-webkit-text-stroke:0.45px #202020;transform:scaleX(1.1258)">rod</span>
<span class="t" style="left:525.36px;top:317.17px;font-size:8.9px;line-height:8.9px;color:#202020;-webkit-text-stroke:0.45px #202020;transform:scaleX(1.1379)">downwards</span>
<span class="t" style="left:449.60px;top:328.17px;font-size:8.9px;line-height:8.9px;color:#202020;-webkit-text-stroke:0.45px #202020;transform:scaleX(0.9931)">towards</span>
<span class="t" style="left:483.59px;top:328.17px;font-size:8.9px;line-height:8.9px;color:#202020;-webkit-text-stroke:0.45px #202020;transform:scaleX(1.0568)">the</span>
<span class="t" style="left:499.36px;top:328.17px;font-size:8.9px;line-height:8.9px;color:#202020;-webkit-text-stroke:0.45px #202020;transform:scaleX(1.1192)">chassis</span>
<span class="t" style="left:302.63px;top:454.27px;font-size:8.9px;line-height:8.9px;color:#202020;-webkit-text-stroke:0.45px #202020;transform:scaleX(0.9628)">Fix</span>
<span class="t" style="left:317.89px;top:454.27px;font-size:8.9px;line-height:8.9px;color:#202020;-webkit-text-stroke:0.45px #202020;transform:scaleX(1.0652)">the</span>
<span class="t" style="left:333.87px;top:454.27px;font-size:8.9px;line-height:8.9px;color:#202020;-webkit-text-stroke:0.45px #202020;transform:scaleX(1.0524)">backrest</span>
<span class="t" style="left:372.40px;top:454.27px;font-size:8.9px;line-height:8.9px;color:#202020;-webkit-text-stroke:0.45px #202020;transform:scaleX(1.0000)">and</span>
<span class="t" style="left:391.09px;top:454.27px;font-size:8.9px;line-height:8.9px;color:#202020;-webkit-text-stroke:0.45px #202020;transform:scaleX(1.0451)">seat</span>
<span class="t" style="left:411.72px;top:454.27px;font-size:8.9px;line-height:8.9px;color:#202020;-webkit-text-stroke:0.45px #202020;transform:scaleX(1.1510)">with</span>
<span class="t" style="left:303.19px;top:465.07px;font-size:8.9px;line-height:8.9px;color:#202020;-webkit-text-stroke:0.45px #202020;transform:scaleX(1.1220)">tools</span>
<span class="t" style="left:448.80px;top:454.27px;font-size:8.9px;line-height:8.9px;color:#202020;-webkit-text-stroke:0.45px #202020;transform:scaleX(1.1247)">Install</span>
<span class="t" style="left:477.89px;top:454.27px;font-size:8.9px;line-height:8.9px;color:#202020;-webkit-text-stroke:0.45px #202020;transform:scaleX(1.0904)">the</span>
<span class="t" style="left:494.09px;top:454.27px;font-size:8.9px;line-height:8.9px;color:#202020;-webkit-text-stroke:0.45px #202020;transform:scaleX(1.0451)">seat</span>
<span class="t" style="left:514.69px;top:454.27px;font-size:8.9px;line-height:8.9px;color:#202020;-webkit-text-stroke:0.45px #202020;transform:scaleX(1.0277)">on</span>
<span class="t" style="left:527.89px;top:454.27px;font-size:8.9px;line-height:8.9px;color:#202020;-webkit-text-stroke:0.45px #202020;transform:scaleX(1.0904)">the</span>
<span class="t" style="left:544.01px;top:454.27px;font-size:8.9px;line-height:8.9px;color:#202020;-webkit-text-stroke:0.45px #202020;transform:scaleX(0.9710)">gas</span>
<span class="t" style="left:560.84px;top:454.27px;font-size:8.9px;line-height:8.9px;color:#202020;-webkit-text-stroke:0.45px #202020;transform:scaleX(1.1258)">rod</span>
<span class="t" style="left:449.39px;top:465.07px;font-size:8.9px;line-height:8.9px;color:#202020;-webkit-text-stroke:0.45px #202020;transform:scaleX(1.0429)">and</span>
<span class="t" style="left:468.19px;top:465.07px;font-size:8.9px;line-height:8.9px;color:#202020;-webkit-text-stroke:0.45px #202020;transform:scaleX(1.0652)">the</span>
<span class="t" style="left:483.77px;top:465.07px;font-size:8.9px;line-height:8.9px;color:#202020;-webkit-text-stroke:0.45px #202020;transform:scaleX(1.0584)">installation</span>
<span class="t" style="left:530.31px;top:465.07px;font-size:8.9px;line-height:8.9px;color:#202020;-webkit-text-stroke:0.45px #202020;transform:scaleX(0.9864)">is</span>
<span class="t" style="left:538.62px;top:465.07px;font-size:8.9px;line-height:8.9px;color:#202020;-webkit-text-stroke:0.45px #202020;transform:scaleX(1.2605)">complete</span>
</body></html>
